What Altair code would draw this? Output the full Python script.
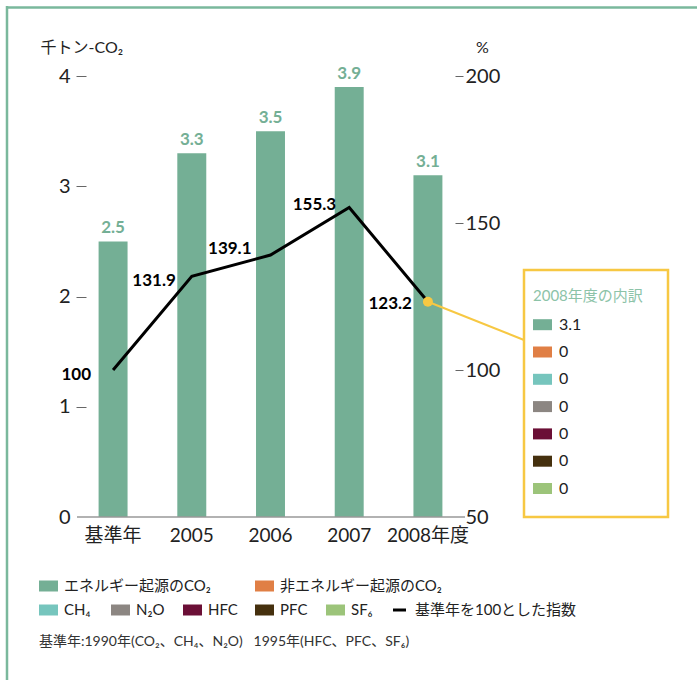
import altair as alt
import pandas as pd

# ---- data ----
categories = ["基準年", "2005", "2006", "2007", "2008年度"]
co2_energy = [2.5, 3.3, 3.5, 3.9, 3.1]
index_values = [100, 131.9, 139.1, 155.3, 123.2]

series_names = ["エネルギー起源のCO₂", "非エネルギー起源のCO₂", "CH₄", "N₂O", "HFC", "PFC", "SF₆"]
series_colors = ["#74af95", "#e07f45", "#76c5bd", "#8c8682", "#6b0f36", "#45300e", "#9cc47a"]
breakdown_2008 = [3.1, 0, 0, 0, 0, 0, 0]
index_label = "基準年を100とした指数"
note_text = "基準年:1990年(CO₂、CH₄、N₂O)\u00a0\u00a0\u00a01995年(HFC、PFC、SF₆)"
inset_title = "2008年度の内訳"

# ---- styles ----
FONT = "Lato, 'DejaVu Sans', 'Noto Sans CJK JP', sans-serif"
CJK = "Lato, 'Noto Sans CJK JP', 'DejaVu Sans', sans-serif"
GREEN = "#74af95"
YELLOW = "#f7c843"
FRAME = "#7ab89c"
TXT = "#222222"
W, H = 369, 441
OX, OY = 86, 76  # plot origin in page

df = pd.DataFrame({"cat": categories, "co2": co2_energy, "idx": index_values})
dummy = alt.Data(values=[{"a": 1}])

x_enc = alt.X(
    "cat:N", sort=categories, title=None,
    scale=alt.Scale(paddingInner=0.632, paddingOuter=0.16),
    axis=alt.Axis(labelAngle=0, ticks=False, domain=False, labelPadding=9,
                  labelFontSize=19, labelColor=TXT, labelFont=CJK),
)
x_plain = alt.X("cat:N", sort=categories)

left_scale = alt.Scale(domain=[0, 4], nice=False, zero=False)
right_scale = alt.Scale(domain=[50, 200], nice=False, zero=False)

bars = alt.Chart(df).mark_bar(color=GREEN).encode(
    x=x_enc,
    y=alt.Y("co2:Q", scale=left_scale,
            axis=alt.Axis(values=[0, 1, 2, 3, 4], format="d", grid=False, domain=False,
                          tickSize=10, tickColor="#666", tickWidth=1,
                          tickOpacity={"condition": {"test": "datum.value === 0", "value": 0}, "value": 1},
                          labelPadding=6, labelFontSize=20, labelColor=TXT, labelFont=FONT,
                          title="千トン-CO₂", titleAngle=0, titleAlign="left", titleBaseline="middle",
                          titleX=-46, titleY=-29, titleFontSize=16, titleFontWeight="normal",
                          titleColor=TXT, titleFont=CJK)),
)
bar_labels = alt.Chart(df).mark_text(color=GREEN, fontWeight="bold", fontSize=17, font=FONT,
                                     baseline="alphabetic", dy=-8).encode(
    x=x_plain, y=alt.Y("co2:Q", scale=left_scale), text=alt.Text("co2:Q", format=".1f"))
left = alt.layer(bars, bar_labels)

y_idx = alt.Y("idx:Q", scale=right_scale,
              axis=alt.Axis(orient="right", values=[50, 100, 150, 200], format="d", grid=False, domain=False,
                            tickSize=8, tickColor="#666", tickWidth=1,
                            tickOpacity={"condition": {"test": "datum.value === 50", "value": 0}, "value": 1},
                            labelPadding=2, labelFontSize=20, labelColor=TXT, labelFont=FONT,
                            title="%", titleAngle=0, titleAlign="center", titleBaseline="middle",
                            titleX=27, titleY=-29, titleFontSize=16, titleFontWeight="normal",
                            titleColor=TXT, titleFont=FONT))
y_idx_plain = alt.Y("idx:Q", scale=right_scale)

line = alt.Chart(df).mark_line(color="black", strokeWidth=3).encode(x=x_plain, y=y_idx)

label_offsets = {"基準年": (-22, 5), "2005": (-16, 5), "2006": (-19, -6), "2007": (-13, -2), "2008年度": (-16, 2)}
line_labels = [
    alt.Chart(df).transform_filter(alt.datum.cat == c).mark_text(
        align="right", baseline="middle", dx=dx, dy=dy, fontWeight="bold", fontSize=17,
        font=FONT, color="black").encode(
        x=x_plain, y=y_idx_plain, text=alt.Text("idx:Q", format="~g"))
    for c, (dx, dy) in label_offsets.items()
]

last = categories[-1]
connector = alt.Chart(df).transform_filter(alt.datum.cat == last).mark_rule(
    color=YELLOW, strokeWidth=2).encode(
    x=x_plain, y=y_idx_plain,
    x2=alt.value(524 - OX), y2=alt.value(340 - OY))
dot = alt.Chart(df).transform_filter(alt.datum.cat == last).mark_point(
    filled=True, color=YELLOW, size=100, opacity=1).encode(x=x_plain, y=y_idx_plain)

right = alt.layer(line, connector, dot, *line_labels)

# ---- decorations ----
deco = []
# frame
deco.append(alt.Chart(dummy).mark_rule(color=FRAME, strokeWidth=2.5).encode(
    x=alt.value(7 - OX), x2=alt.value(697 - OX), y=alt.value(7.5 - OY), y2=alt.value(7.5 - OY)))
deco.append(alt.Chart(dummy).mark_rule(color=FRAME, strokeWidth=2.5).encode(
    x=alt.value(7 - OX), x2=alt.value(7 - OX), y=alt.value(6 - OY), y2=alt.value(680 - OY)))
# baseline
deco.append(alt.Chart(dummy).mark_rule(color="#999", strokeWidth=1.5).encode(
    x=alt.value(77 - OX), x2=alt.value(465 - OX), y=alt.value(H), y2=alt.value(H)))

# inset box
deco.append(alt.Chart(dummy).mark_rect(fill="white", stroke=YELLOW, strokeWidth=2.5).encode(
    x=alt.value(524 - OX), x2=alt.value(668 - OX), y=alt.value(270 - OY), y2=alt.value(517 - OY)))
deco.append(alt.Chart(dummy).mark_text(text=inset_title, align="left", baseline="middle", fontSize=15,
                                       font=CJK, color="#8cc3a8").encode(
    x=alt.value(533 - OX), y=alt.value(296 - OY)))
for i, (col, val) in enumerate(zip(series_colors, breakdown_2008)):
    cy = 324.7 + i * 27.3 - OY
    deco.append(alt.Chart(dummy).mark_rect(color=col).encode(
        x=alt.value(533 - OX), x2=alt.value(552 - OX), y=alt.value(cy - 5.5), y2=alt.value(cy + 5.5)))
    deco.append(alt.Chart(dummy).mark_text(text=f"{val:g}", align="left", baseline="middle",
                                           fontSize=16, font=FONT, color=TXT).encode(
        x=alt.value(559 - OX), y=alt.value(cy)))

# bottom legend
legend_pos = [(39, 586), (255, 586), (39, 610), (111, 610), (183, 610), (255, 610), (326, 610)]
for (lx, ly), col, name in zip(legend_pos, series_colors, series_names):
    deco.append(alt.Chart(dummy).mark_rect(color=col).encode(
        x=alt.value(lx - OX), x2=alt.value(lx + 19 - OX), y=alt.value(ly - 5.5 - OY), y2=alt.value(ly + 5.5 - OY)))
    deco.append(alt.Chart(dummy).mark_text(text=name, align="left", baseline="middle", fontSize=15,
                                           font=CJK, color=TXT).encode(
        x=alt.value(lx + 25 - OX), y=alt.value(ly - OY)))
deco.append(alt.Chart(dummy).mark_rule(color="black", strokeWidth=3).encode(
    x=alt.value(393 - OX), x2=alt.value(406 - OX), y=alt.value(610 - OY), y2=alt.value(610 - OY)))
deco.append(alt.Chart(dummy).mark_text(text=index_label, align="left", baseline="middle", fontSize=15,
                                       font=CJK, color=TXT).encode(
    x=alt.value(415 - OX), y=alt.value(610 - OY)))
deco.append(alt.Chart(dummy).mark_text(text=note_text, align="left", baseline="middle", fontSize=14,
                                       font=CJK, color="#333333").encode(
    x=alt.value(39 - OX), y=alt.value(642 - OY)))

chart = alt.layer(left, right, *deco).resolve_scale(y="independent").properties(
    width=W, height=H,
    autosize=alt.AutoSizeParams(type="none"),
    padding={"left": OX, "top": OY, "right": 697 - OX - W, "bottom": 680 - OY - H},
    background="white",
).configure_view(strokeWidth=0)

chart.save("out.html", embed_options={"renderer": "svg", "actions": False})
